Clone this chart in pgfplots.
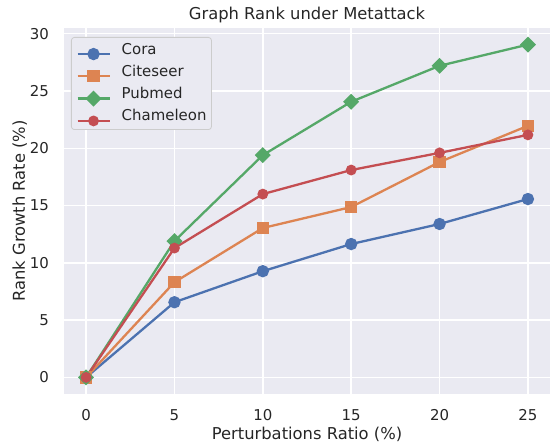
\documentclass[border=0pt]{standalone}
\usepackage{pgfplots}
\pgfplotsset{compat=1.18}
\usepackage{fontspec}
\setmainfont{DejaVu Sans}
\definecolor{bg}{HTML}{EAEAF2}
\definecolor{cblue}{HTML}{4C72B0}
\definecolor{corange}{HTML}{DD8452}
\definecolor{cgreen}{HTML}{55A868}
\definecolor{cred}{HTML}{C44E52}
\definecolor{txt}{HTML}{262626}
\begin{document}
\begin{tikzpicture}
\begin{axis}[
  scale only axis, width=486bp, height=366bp,
  xmin=-1.25, xmax=26.25, ymin=-1.45, ymax=30.5,
  xtick={0,5,10,15,20,25}, ytick={0,5,10,15,20,25,30},
  axis background/.style={fill=bg},
  axis line style={draw=none},
  major tick length=0pt, tick style={draw=none},
  grid=major, grid style={white, line width=1.4bp},
  tick label style={font=\fontsize{15}{18}\selectfont, text=txt},
  /pgf/number format/assume math mode=true,
  xticklabel style={anchor=base, inner sep=0pt, yshift=-26bp},
  yticklabel style={anchor=east, inner sep=0pt, xshift=-15bp},
  xlabel={Perturbations Ratio (\%)},
  xlabel style={at={(axis description cs:0.5,-0.1230)}, anchor=base, inner sep=0pt, font=\fontsize{16.4}{20}\selectfont, text=txt},
  ylabel={Rank Growth Rate (\%)},
  ylabel style={at={(axis description cs:-0.08025,0.5)}, anchor=base, inner sep=0pt, font=\fontsize{16.4}{20}\selectfont, text=txt},
  title={Graph Rank under Metattack},
  every axis title shift=0pt,
  title style={at={(axis description cs:0.5,1.02186)}, anchor=base, inner sep=0pt, font=\fontsize{16.4}{20}\selectfont, text=txt},
  legend style={at={(axis description cs:0.0144,0.9754)}, anchor=north west, fill=bg, draw=black!20, line width=0.8bp, rounded corners=3bp, inner xsep=5bp, inner ysep=1.5bp, font=\fontsize{15}{18}\selectfont, text=txt,
    nodes={text height=11.5bp, text depth=3.5bp, inner ysep=3.65bp, inner xsep=0pt, anchor=base west},
    /tikz/every odd column/.append style={column sep=11bp}},
  legend cell align=left,
  legend image code/.code={\draw[mark repeat=2,mark phase=2] plot coordinates {(-1bp,0bp) (15bp,0bp) (31bp,0bp)};},
]
\addplot[cblue, line width=2.3bp, mark=*, mark size=5bp, mark options={draw=none, fill=cblue}]
  coordinates {(0,0) (5,6.56) (10,9.27) (15,11.64) (20,13.39) (25,15.57)};
\addlegendentry{Cora}
\addplot[corange, line width=2.3bp, mark=square*, mark size=5bp, mark options={draw=none, fill=corange}]
  coordinates {(0,0) (5,8.31) (10,13.04) (15,14.87) (20,18.8) (25,21.96)};
\addlegendentry{Citeseer}
\addplot[cgreen, line width=2.3bp, mark=square*, mark size=4.5bp, mark options={draw=none, fill=cgreen, rotate=45}]
  coordinates {(0,0) (5,11.9) (10,19.4) (15,24.06) (20,27.2) (25,29.05)};
\addlegendentry{Pubmed}
\addplot[cred, line width=2.3bp, mark=*, mark size=4.2bp, mark options={draw=none, fill=cred}]
  coordinates {(0,0) (5,11.29) (10,16.0) (15,18.1) (20,19.6) (25,21.17)};
\addlegendentry{Chameleon}
\end{axis}
\pgfresetboundingbox
\path[use as bounding box] (current axis.south west) ++(-64bp,-48bp) rectangle ++(553bp,442bp);
\end{tikzpicture}
\end{document}
